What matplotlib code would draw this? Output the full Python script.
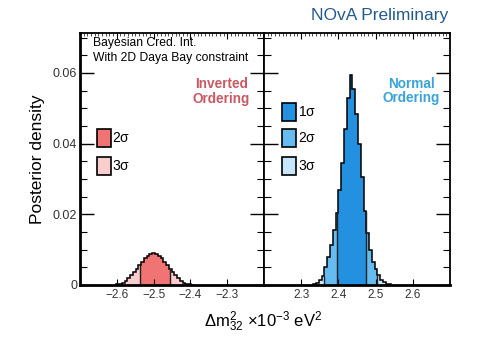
import numpy as np
import matplotlib
matplotlib.use("Agg")
import matplotlib.pyplot as plt
from matplotlib.patches import Rectangle
from matplotlib.ticker import MultipleLocator

plt.rcParams['font.family'] = ['Liberation Sans', 'DejaVu Sans']
plt.rcParams['mathtext.fontset'] = 'custom'
plt.rcParams['mathtext.rm'] = 'Liberation Sans'
plt.rcParams['mathtext.it'] = 'Liberation Sans'

# Posterior histograms (bin width 0.0075, in 1e-3 eV^2)
io_edge_start = -2.60125
io_density = [0.0002, 0.0004, 0.0007, 0.0012, 0.0019, 0.0027, 0.0036,
              0.0046, 0.0056, 0.0066, 0.0075, 0.0083, 0.0088, 0.0090,
              0.0088, 0.0083, 0.0075, 0.0066, 0.0056, 0.0046, 0.0036,
              0.0027, 0.0019, 0.0012, 0.0007, 0.0004, 0.0002, 0.0001]

no_edge_start = 2.3325
no_density = [0.0003, 0.0007, 0.0013, 0.0025, 0.0050, 0.0080, 0.0112,
              0.0155, 0.0205, 0.0268, 0.0345, 0.0440, 0.0530, 0.0594,
              0.0555, 0.0485, 0.0400, 0.0305, 0.0210, 0.0148, 0.0100,
              0.0065, 0.0045, 0.0027, 0.0014, 0.0008, 0.0004, 0.0002]
bin_width = 0.0075

# Credible intervals
io_2sigma = (-2.538, -2.455)
no_1sigma = (2.395, 2.473)
no_2sigma = (2.362, 2.505)

no_colors = {'1': '#2390e0', '2': '#66bbf0', '3': '#c8e6fa'}
io_colors = {'2': '#f07474', '3': '#f9cdcd'}


def step_value(edges, vals, x):
    idx = np.clip(np.searchsorted(edges, x, side='right') - 1, 0, len(vals) - 1)
    return np.asarray(vals)[idx]


def fill_region(ax, edges, vals, lo, hi, color):
    inner = edges[(edges > lo) & (edges < hi)]
    xs = np.concatenate([[lo], inner, [hi]])
    ys = step_value(edges, vals, xs)
    ax.fill_between(xs, ys, step='post', color=color, lw=0)


def draw_hist(ax, start, vals, regions, colors):
    edges = start + bin_width * np.arange(len(vals) + 1)
    for lo, hi, key in regions:
        fill_region(ax, edges, vals, lo, hi, colors[key])
    bounds = sorted({b for lo, hi, _ in regions for b in (lo, hi)})
    for b in bounds:
        if edges[0] < b < edges[-1]:
            ax.vlines(b, 0, step_value(edges, vals, b), color='#222222', lw=1.0)
    ax.stairs(vals, edges, color='black', lw=1.1)


fig = plt.figure(figsize=(5.0, 3.39), dpi=100)
left, mid, right = 0.16, 0.528, 0.90
bottom, top = 0.1593, 0.9027
ax_io = fig.add_axes([left, bottom, mid - left, top - bottom])
ax_no = fig.add_axes([mid, bottom, right - mid, top - bottom], sharey=ax_io)

io_edges = io_edge_start + bin_width * np.arange(len(io_density) + 1)
no_edges = no_edge_start + bin_width * np.arange(len(no_density) + 1)

draw_hist(ax_io, io_edge_start, io_density,
          [(io_edges[0], io_2sigma[0], '3'), (io_2sigma[0], io_2sigma[1], '2'),
           (io_2sigma[1], io_edges[-1], '3')], io_colors)
draw_hist(ax_no, no_edge_start, no_density,
          [(no_edges[0], no_2sigma[0], '3'), (no_2sigma[0], no_1sigma[0], '2'),
           (no_1sigma[0], no_1sigma[1], '1'), (no_1sigma[1], no_2sigma[1], '2'),
           (no_2sigma[1], no_edges[-1], '3')], no_colors)

ax_io.set_xlim(-2.7, -2.2)
ax_no.set_xlim(2.2, 2.7)
ax_io.set_ylim(0, 0.0713)

ax_io.set_xticks([-2.6, -2.5, -2.4, -2.3])
ax_io.set_xticklabels(['\u22122.6', '\u22122.5', '\u22122.4', '\u22122.3'])
ax_no.set_xticks([2.3, 2.4, 2.5, 2.6])
ax_no.set_xticklabels(['2.3', '2.4', '2.5', '2.6'])
ax_io.set_yticks([0, 0.02, 0.04, 0.06])
ax_io.set_yticklabels(['0', '0.02', '0.04', '0.06'])
ax_io.yaxis.set_minor_locator(MultipleLocator(0.005))

for ax in (ax_io, ax_no):
    ax.xaxis.set_minor_locator(MultipleLocator(0.01))
    ax.tick_params(axis='both', which='both', direction='in', top=True,
                   right=True, left=True, colors='black', labelcolor='#333333')
    ax.tick_params(axis='y', which='major', length=10, width=1.0)
    ax.tick_params(axis='y', which='minor', length=5, width=0.8)
    ax.tick_params(axis='x', which='major', length=4, width=0.8, pad=3,
                   labelsize=8.5)
    ax.tick_params(axis='x', which='minor', length=2, width=0.5, bottom=False)
    for s in ax.spines.values():
        s.set_linewidth(1.3)
    ax.spines['bottom'].set_linewidth(2.0)
ax_io.spines['left'].set_linewidth(2.0)
ax_io.tick_params(axis='y', labelsize=9, pad=2)
ax_no.tick_params(axis='y', labelleft=False)

ax_io.set_ylabel('Posterior density', fontsize=12.5, labelpad=6)
fig.text(0.526, 0.05, r'$\Delta\mathrm{m}^{2}_{32}$ $\times10^{-3}$ eV$^{2}$',
         ha='center', va='center', fontsize=12)

fig.text(0.896, 0.955, 'NOvA Preliminary', ha='right', va='center',
         fontsize=12.5, color='#235a8c')

ax_io.text(0.072, 0.96, 'Bayesian Cred. Int.', transform=ax_io.transAxes,
           fontsize=8.7, va='center', ha='left')
ax_io.text(0.072, 0.90, 'With 2D Daya Bay constraint', transform=ax_io.transAxes,
           fontsize=8.7, va='center', ha='left')

ax_io.text(0.768, 0.768, 'Inverted\nOrdering', transform=ax_io.transAxes,
           fontsize=9.8, fontweight='bold', color='#c85a64', ha='center',
           va='center', linespacing=1.05)
ax_no.text(0.793, 0.770, 'Normal\nOrdering', transform=ax_no.transAxes,
           fontsize=9.8, fontweight='bold', color='#3ba3d6', ha='center',
           va='center', linespacing=1.05)

# Legend boxes
io_legend = [('2', 0.548, r'2$\sigma$'), ('3', 0.437, r'3$\sigma$')]
for key, y0, lab in io_legend:
    ax_io.add_patch(Rectangle((0.094, y0), 0.073, 0.072, transform=ax_io.transAxes,
                              facecolor=io_colors[key], edgecolor='black', lw=1.2))
    ax_io.text(0.174, y0 + 0.036, lab, transform=ax_io.transAxes, fontsize=10,
               va='center', ha='left')

no_legend = [('1', 0.651, r'1$\sigma$'), ('2', 0.548, r'2$\sigma$'),
             ('3', 0.437, r'3$\sigma$')]
for key, y0, lab in no_legend:
    ax_no.add_patch(Rectangle((0.097, y0), 0.075, 0.072, transform=ax_no.transAxes,
                              facecolor=no_colors[key], edgecolor='black', lw=1.2))
    ax_no.text(0.183, y0 + 0.036, lab, transform=ax_no.transAxes, fontsize=10,
               va='center', ha='left')

fig.savefig('out.png', dpi=100)
